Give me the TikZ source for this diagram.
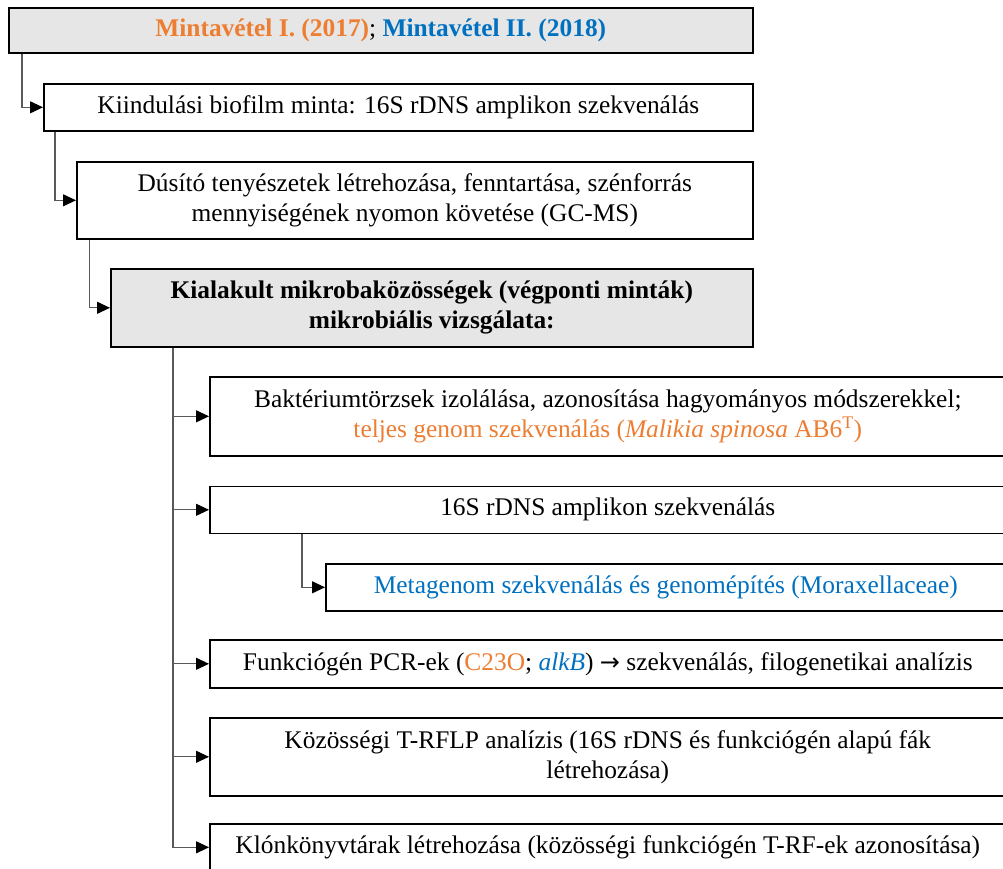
\documentclass[tikz,border=0pt]{standalone}
\usepackage{fontspec}
\setmainfont{Liberation Serif}
\newfontfamily\symfont{DejaVu Sans}
\usetikzlibrary{arrows.meta}
\definecolor{orng}{RGB}{237,125,49}
\definecolor{blu}{RGB}{0,112,192}
\definecolor{fillgr}{RGB}{231,230,230}
\definecolor{conngr}{RGB}{89,89,89}
\tikzset{
  box/.style={draw=black, line width=1.6pt, anchor=north west, inner sep=0pt,
    align=center, font=\fontsize{25.4}{30}\selectfont},
  greybox/.style={box, fill=fillgr},
  conn/.style={draw=conngr, line width=1.1pt,
    -{Triangle[length=13pt,width=12pt,color=black]}}
}
\begin{document}
\begin{tikzpicture}[x=1pt,y=-1pt]
\useasboundingbox (0,0) rectangle (1003,868);
\clip (0,0) rectangle (1003,868);
\fill[white] (0,0) rectangle (1003,868);

\node[greybox, minimum width=744pt, minimum height=45pt] (b1) at (8,7)
  {\textbf{\color{orng}Mintavétel I. (2017)}; \textbf{\color{blu}Mintavétel II. (2018)}};
\node[box, minimum width=709pt, minimum height=47pt] (b2) at (43,83)
  {Kiindulási biofilm minta: 16S rDNS amplikon szekvenálás};
\node[box, minimum width=676pt, minimum height=77pt] (b3) at (76,161)
  {Dúsító tenyészetek létrehozása, fenntartása, szénforrás\\ mennyiségének nyomon követése (GC-MS)};
\node[greybox, minimum width=642pt, minimum height=78pt] (b4) at (110,268)
  {\textbf{Kialakult mikrobaközösségek (végponti minták)}\\ \textbf{mikrobiális vizsgálata:}};
\node[box, minimum width=796pt, minimum height=79pt] (b5) at (209,376)
  {Baktériumtörzsek izolálása, azonosítása hagyományos módszerekkel;\\
   {\color{orng}teljes genom szekvenálás (\textit{Malikia spinosa} AB6\textsuperscript{T})}};
\node[box, minimum width=796pt, minimum height=47pt] (b6) at (209,485.5)
  {16S rDNS amplikon szekvenálás};
\node[box, minimum width=680pt, minimum height=47pt] (b7) at (325,563)
  {\color{blu}Metagenom szekvenálás és genomépítés (Moraxellaceae)};
\node[box, minimum width=796pt, minimum height=48pt] (b8) at (209,639)
  {Funkciógén PCR-ek ({\color{orng}C23O}; {\color{blu}\textit{alkB}}) {\symfont\fontsize{24}{30}\selectfont →} szekvenálás, filogenetikai analízis};
\node[box, minimum width=796pt, minimum height=78pt] (b9) at (209,717)
  {Közösségi T-RFLP analízis (16S rDNS és funkciógén alapú fák\\ létrehozása)};
\node[box, minimum width=796pt, minimum height=47pt] (b10) at (209,823)
  {Klónkönyvtárak létrehozása (közösségi funkciógén T-RF-ek azonosítása)};

\draw[conn] ([xshift=14pt]b1.south west) |- (b2.west);
\draw[conn] ([xshift=12pt]b2.south west) |- (b3.west);
\draw[conn] ([xshift=13.5pt]b3.south west) |- (b4.west);
\coordinate (t) at ([xshift=63pt]b4.south west);
\draw[conn] (t) |- (b5.west);
\draw[conn] (t) |- (b6.west);
\draw[conn] (t) |- (b8.west);
\draw[conn] (t) |- (b9.west);
\draw[conn] (t) |- (b10.west);
\draw[conn] ([xshift=93pt]b6.south west) |- (b7.west);
\end{tikzpicture}
\end{document}
